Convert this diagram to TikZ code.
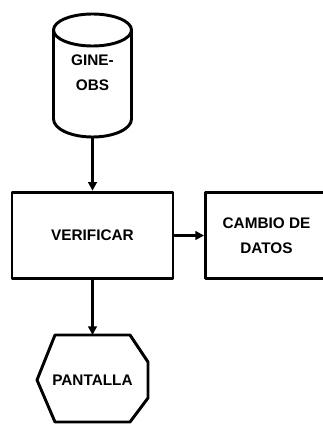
\documentclass[tikz,border=0pt]{standalone}
\usepackage{fontspec}
\setmainfont{Liberation Sans}
\usetikzlibrary{arrows.meta}
\begin{document}
\begin{tikzpicture}[x=0.75pt, y=-0.75pt, line join=round, line cap=round,
    >={Triangle[length=6.5pt,width=6.5pt]},
    txt/.style={font=\bfseries\fontsize{11.5}{18.5}\selectfont, align=center},
    caja/.style={draw, line width=2.2pt, minimum height=65pt, inner sep=0pt, txt},
    borde/.style={line width=2.2pt},
    flecha/.style={->, line width=1.8pt}]
  \useasboundingbox (0,0) rectangle (323,428);

  % Cilindro
  \draw[borde] (92.5,30) ellipse [x radius=29.25pt, y radius=12pt];
  \draw[borde] (53.5,30) -- (53.5,119) arc [start angle=180, end angle=360,
    x radius=29.25pt, y radius=13.5pt] -- (131.5,30);

  % Nodos
  \node[txt] (cine) at (92.5,72.5) {GINE-\\OBS};
  \coordinate (cine-s) at (92.5,137);
  \node[caja, minimum width=120.75pt] (ver) at (92.5,235.5) {VERIFICAR};
  \node[caja, minimum width=91.5pt] (cam) at (266.5,235.5) {CAMBIO DE\\DATOS};
  \node[txt] (pant) at (92.5,380) {PANTALLA};
  \coordinate (pant-n) at (92.5,335);

  % Forma de pantalla
  \draw[borde] (55,335) -- (130,335) -- (148,362) -- (148,398) -- (130,422)
    -- (55,422) -- (37,380) -- cycle;

  % Flechas
  \draw[flecha] (cine-s) -- (ver.north);
  \draw[flecha] (ver.east) -- (cam.west);
  \draw[flecha] (ver.south) -- (pant-n);
\end{tikzpicture}
\end{document}
